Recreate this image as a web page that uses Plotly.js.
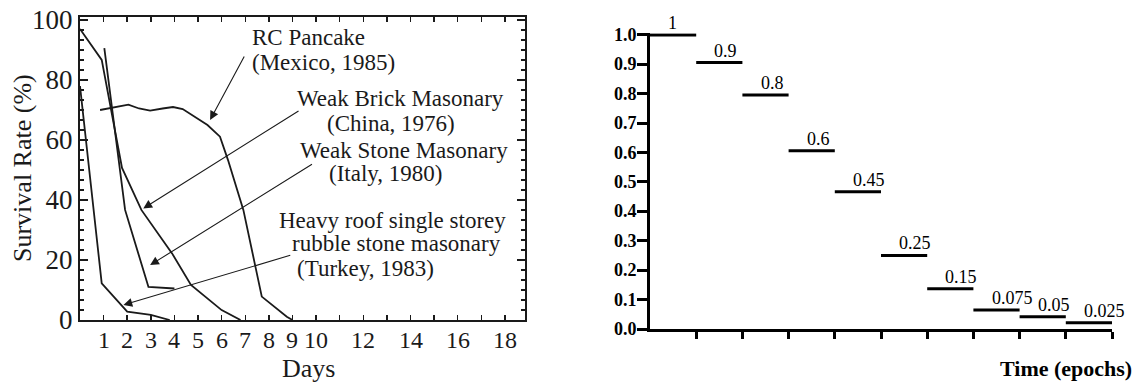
<!DOCTYPE html>
<html>
<head>
<meta charset="utf-8">
<script src="https://cdn.plot.ly/plotly-3.0.1.min.js"></script>
<style>html,body{margin:0;padding:0;background:#fff;}#chart{width:1144px;height:385px;}</style>
</head>
<body>
<div id="chart"></div>
<script>
// ---------- Left panel data (Survival rate vs days) ----------
const rcDays     = [0.85, 1.5, 2.05, 2.5, 2.97, 3.5, 3.94, 4.35, 4.87, 5.4, 5.93, 6.27, 6.92, 7.7, 8.76, 9.0];
const rcSurvival = [70, 71, 71.8, 70.5, 69.8, 70.5, 71, 70.3, 67.8, 65, 61.1, 53.3, 36.7, 7.8, 1.1, 0];
const brickDays     = [0, 0.92, 1.78, 2.6, 3.9, 4.7, 6.0, 6.8];
const brickSurvival = [97, 86.7, 50.7, 36.7, 22.2, 11.7, 3.3, 0];
const stoneDays     = [1.03, 1.91, 2.9, 4.0];
const stoneSurvival = [90.6, 36.7, 11, 10.5];
const turkeyDays     = [0, 0.92, 2.0, 3.0, 3.8];
const turkeySurvival = [78, 12.2, 2.8, 1.7, 0];
const dayTickVals  = [1,2,3,4,5,6,7,8,9,10,11,12,13,14,15,16,17,18];
const dayTickText  = ['1','2','3','4','5','6','7','8','9','10','','12','','14','','16','','18'];
const rateTickVals = [0,20,40,60,80,100];

// ---------- Right panel data (step values per epoch) ----------
const epochLevels = [1.0, 0.906, 0.796, 0.606, 0.467, 0.25, 0.137, 0.065, 0.042, 0.021];
const epochLabels = ['1','0.9','0.8','0.6','0.45','0.25','0.15','0.075','0.05','0.025'];
const epochTicks  = [1,2,3,4,5,6,7,8,9,10];
const valueTicks  = [0,0.1,0.2,0.3,0.4,0.5,0.6,0.7,0.8,0.9,1.0];

const W = 1144, H = 385;
const FONT = '"Liberation Serif", "Times New Roman", serif';
const px = x => x / W;
const py = y => 1 - y / H;
const ink = '#1a1a1a';

const curveLine = {color: ink, width: 1.8};
const traces = [
  {x: rcDays, y: rcSurvival, mode: 'lines', line: curveLine, xaxis: 'x', yaxis: 'y', hoverinfo: 'skip'},
  {x: brickDays, y: brickSurvival, mode: 'lines', line: curveLine, xaxis: 'x', yaxis: 'y', hoverinfo: 'skip'},
  {x: stoneDays, y: stoneSurvival, mode: 'lines', line: curveLine, xaxis: 'x', yaxis: 'y', hoverinfo: 'skip'},
  {x: turkeyDays, y: turkeySurvival, mode: 'lines', line: curveLine, xaxis: 'x', yaxis: 'y', hoverinfo: 'skip'}
];

// step segments, one per epoch
const segX = [], segY = [];
epochLevels.forEach((v, i) => { segX.push(i, i + 1, null); segY.push(v, v, null); });
traces.push({x: segX, y: segY, mode: 'lines', line: {color: '#000', width: 3}, xaxis: 'x2', yaxis: 'y2', hoverinfo: 'skip', cliponaxis: false});

const annotations = [];
// left panel text blocks
const textBlocks = [
  ['RC Pancake', 250, 37], ['(Mexico, 1985)', 250, 62],
  ['Weak Brick Masonary', 295, 99], ['(China, 1976)', 325, 123],
  ['Weak Stone Masonary', 298, 150], ['(Italy, 1980)', 327, 173],
  ['Heavy roof single storey', 277, 220], ['rubble stone masonary', 290, 243], ['(Turkey, 1983)', 295, 268]
];
textBlocks.forEach(([t, x, y]) => annotations.push({
  text: t, xref: 'paper', yref: 'paper', x: px(x), y: py(y), xanchor: 'left', yanchor: 'middle',
  showarrow: false, font: {family: FONT, size: 23, color: ink}
}));
// arrows (head -> tail in data coords)
const arrows = [
  [5.51, 66.7, 6.99, 88.3],
  [2.68, 37.2, 9.32, 70.0],
  [2.97, 18.3, 9.89, 52.2],
  [1.84, 5.0, 8.97, 21.7]
];
arrows.forEach(([x, y, ax, ay]) => annotations.push({
  text: '', x: x, y: y, xref: 'x', yref: 'y', ax: ax, ay: ay, axref: 'x', ayref: 'y',
  showarrow: true, arrowhead: 2, arrowsize: 1.6, arrowwidth: 1.1, arrowcolor: ink, standoff: 0
}));
// left x tick labels (drawn a little closer to the axis than plotly's default)
dayTickVals.forEach((d, i) => { if (dayTickText[i]) annotations.push({
  text: dayTickText[i], xref: 'x', yref: 'paper', x: d, y: py(340), xanchor: 'center', yanchor: 'middle',
  showarrow: false, font: {family: FONT, size: 24, color: ink}
}); });
// right y tick labels (bold)
valueTicks.forEach(v => annotations.push({
  text: '<b>' + v.toFixed(1) + '</b>', xref: 'paper', yref: 'y2', x: px(639), y: v, xanchor: 'right', yanchor: 'middle',
  showarrow: false, font: {family: FONT, size: 18, color: '#000'}
}));
// axis titles
annotations.push({text: 'Days', xref: 'paper', yref: 'paper', x: px(308), y: py(368), xanchor: 'center', yanchor: 'middle',
  showarrow: false, font: {family: FONT, size: 26, color: ink}});
annotations.push({text: 'Survival Rate (%)', xref: 'paper', yref: 'paper', x: px(23), y: py(168), xanchor: 'center', yanchor: 'middle',
  textangle: -90, showarrow: false, font: {family: FONT, size: 26, color: ink}});
annotations.push({text: '<b>Time (epochs)</b>', xref: 'paper', yref: 'paper', x: px(1066), y: py(368), xanchor: 'center', yanchor: 'middle',
  showarrow: false, font: {family: FONT, size: 22, color: '#000'}});
// step labels
epochLevels.forEach((v, i) => annotations.push({
  text: epochLabels[i], xref: 'x2', yref: 'y2', x: i + 0.35, y: v, xanchor: 'left', yanchor: 'bottom',
  showarrow: false, font: {family: FONT, size: 18, color: '#000'}
}));

const layout = {
  width: W, height: H, margin: {l: 0, r: 0, t: 0, b: 0},
  paper_bgcolor: '#fff', plot_bgcolor: '#fff', showlegend: false,
  font: {family: FONT, color: ink},
  xaxis: {
    domain: [px(80), px(525)], range: [0, 18.85], anchor: 'y',
    tickmode: 'array', tickvals: dayTickVals, showticklabels: false,
    ticks: 'inside', ticklen: 5, tickwidth: 1.5, tickcolor: ink,
    showline: true, linewidth: 2, linecolor: ink, mirror: 'allticks',
    showgrid: false, zeroline: false
  },
  yaxis: {
    domain: [py(320), py(17)], range: [0, 101], anchor: 'x',
    tickmode: 'array', tickvals: rateTickVals,
    ticks: 'inside', ticklen: 8, tickwidth: 1.5, tickcolor: ink,
    minor: {dtick: 10/3, ticks: 'inside', ticklen: 4, tickwidth: 1.2, tickcolor: ink, showgrid: false},
    showline: true, linewidth: 2, linecolor: ink, mirror: 'allticks',
    showgrid: false, zeroline: false, tickfont: {family: FONT, size: 27, color: ink}
  },
  xaxis2: {
    domain: [px(650), px(1112)], range: [0, 10], anchor: 'y2',
    tickmode: 'array', tickvals: epochTicks, showticklabels: false,
    ticks: 'outside', ticklen: 7, tickwidth: 3, tickcolor: '#000',
    showline: true, linewidth: 3, linecolor: '#000',
    showgrid: false, zeroline: false
  },
  yaxis2: {
    domain: [py(329), py(33.2)], range: [0, 1.006], anchor: 'x2',
    tickmode: 'array', tickvals: valueTicks, showticklabels: false,
    ticks: 'outside', ticklen: 10, tickwidth: 3, tickcolor: '#000',
    showline: true, linewidth: 3, linecolor: '#000',
    showgrid: false, zeroline: false
  },
  annotations: annotations
};

Plotly.newPlot('chart', traces, layout, {staticPlot: true, displayModeBar: false});
</script>
</body>
</html>
